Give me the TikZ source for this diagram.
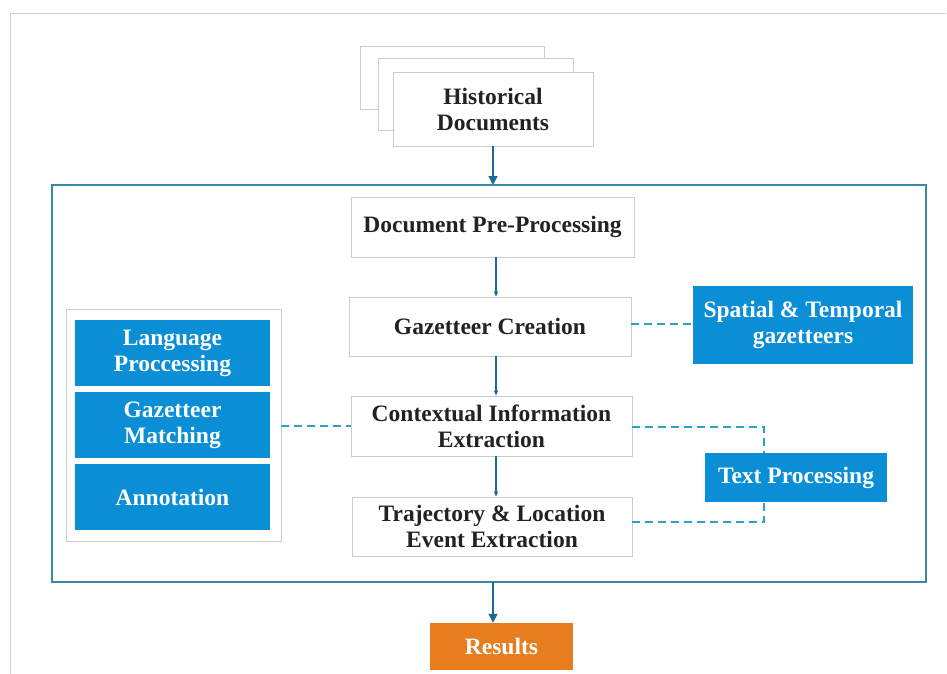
\documentclass[tikz,border=0pt]{standalone}
\usepackage{fontspec}
\setmainfont{Liberation Serif}
\usetikzlibrary{arrows.meta}
\definecolor{boxblue}{HTML}{0A8ED5}
\definecolor{resorange}{HTML}{E67D1F}
\definecolor{dashcol}{HTML}{2AA3C6}
\definecolor{framecol}{HTML}{3C88A2}
\definecolor{arrcol}{HTML}{1C6B95}
\definecolor{greyline}{HTML}{C9CDD0}
\definecolor{txt}{HTML}{222222}
\tikzset{
  wbox/.style={draw=greyline, line width=0.9pt, fill=white, inner sep=0pt, align=center,
    font=\fontsize{23.5}{26}\selectfont\bfseries, text=txt},
  bbox/.style={fill=boxblue, draw=none, inner sep=0pt, align=center,
    font=\fontsize{23.5}{26}\selectfont\bfseries, text=white},
  obox/.style={fill=resorange, draw=none, inner sep=0pt, align=center,
    font=\fontsize{23.5}{26}\selectfont\bfseries, text=white},
  flow/.style={draw=arrcol, line width=1.4pt, -{Triangle[length=9pt,width=9pt]}},
  thinflow/.style={draw=arrcol, line width=1.1pt, -{Triangle[length=5pt,width=4pt]}},
  dashlink/.style={draw=dashcol, line width=1.4pt, dash pattern=on 8pt off 5pt},
}
\newcommand{\bx}[6]{\node[#1, minimum width=#4-#2, minimum height=#5-#3] (#6) at ({(#2+#4)/2},{(#3+#5)/2})}
\begin{document}
\begin{tikzpicture}[x=1pt,y=-1pt]
\useasboundingbox (0,0) rectangle (947,674);
\fill[white] (0,0) rectangle (947,674);
% page frame
\draw[greyline, line width=0.9pt] (10,674) -- (10,13) -- (946,13);
% main frame
\draw[framecol, line width=1.6pt] (52,185) rectangle (926,582);
% stacked documents
\draw[greyline, line width=0.9pt, fill=white] (360,46) rectangle (544,109);
\draw[greyline, line width=0.9pt, fill=white] (378,58) rectangle (573,130);
\bx{wbox}{393}{72}{593}{146}{hist} {Historical\\Documents};
\coordinate (ftop) at (493,185);
\draw[flow] (hist.south) -- (ftop);
% main chain
\bx{wbox}{351}{197}{634}{257}{pre} {Document Pre-Processing};
\bx{wbox}{349}{297}{631}{356}{gaz} {Gazetteer Creation};
\bx{wbox}{351}{396}{632}{456}{ctx} {Contextual Information\\Extraction};
\bx{wbox}{352}{497}{632}{556}{traj} {Trajectory \& Location\\Event Extraction};
\draw[thinflow] (pre.south -| 496,0) -- (gaz.north -| 496,0);
\draw[thinflow] (gaz.south -| 496,0) -- (ctx.north -| 496,0);
\draw[thinflow] (ctx.south -| 496,0) -- (traj.north -| 496,0);
% right side
\bx{bbox}{693}{286}{913}{364}{spt} {Spatial \& Temporal\\gazetteers};
\bx{bbox}{705}{453}{887}{502}{tp} {Text Processing};
\draw[dashlink] (gaz.east |- 0,324) -- (spt.west |- 0,324);
\draw[dashlink] (ctx.east |- 0,427) -| (tp.north -| 764,0);
\draw[dashlink] (traj.east |- 0,522) -| (tp.south -| 764,0);
% left group
\bx{wbox}{66}{309}{281}{541}{grp} {};
\bx{bbox}{75}{320}{270}{386}{lang} {Language\\Proccessing};
\bx{bbox}{75}{392}{270}{458}{gm} {Gazetteer\\Matching};
\bx{bbox}{75}{464}{270}{530}{ann} {Annotation};
\draw[dashlink] (grp.east |- 0,426) -- (ctx.west |- 0,426);
% results
\bx{obox}{430}{623}{573}{670}{res} {Results};
\coordinate (fbot) at (493,582);
\draw[flow] (fbot) -- (res.north -| 493,0);
\end{tikzpicture}
\end{document}
